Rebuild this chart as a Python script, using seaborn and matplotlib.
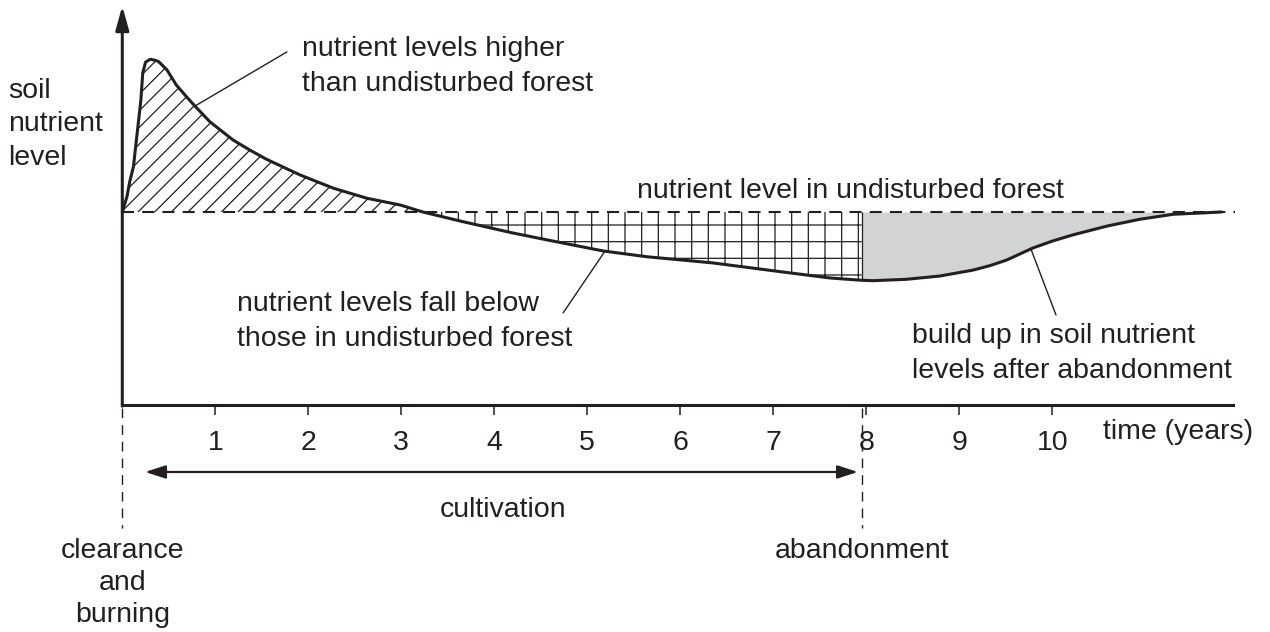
import numpy as np
import pandas as pd
import matplotlib

matplotlib.use('Agg')
import matplotlib.pyplot as plt
import seaborn as sns

# soil nutrient level (undisturbed forest = 100, arbitrary units)
years = [0.00, 0.05, 0.08, 0.12, 0.16, 0.20, 0.22, 0.25, 0.30, 0.35, 0.39, 0.48, 0.58,
         0.69, 0.78, 0.94, 1.19, 1.37, 1.55, 1.91, 2.27, 2.63, 2.99, 3.23, 3.66, 4.20,
         4.57, 5.17, 5.64, 6.35, 7.07, 7.61, 7.95, 8.07, 8.43, 8.79, 9.15, 9.33, 9.51,
         9.79, 10.00, 10.22, 10.59, 10.94, 11.30, 11.66, 11.82]
nutrient = [100.0, 107.9, 115.7, 123.5, 140.8, 158.0, 172.0, 177.6, 179.1, 178.6, 177.9,
            173.6, 165.8, 159.7, 154.9, 146.8, 137.3, 132.1, 127.3, 119.2, 112.3, 107.1,
            103.6, 100.0, 95.0, 89.1, 85.5, 79.8, 76.8, 73.6, 69.1, 65.8, 64.6, 64.4,
            65.1, 66.8, 69.9, 72.2, 75.1, 81.3, 84.9, 88.1, 92.7, 96.2, 98.8, 99.6, 100.0]
undisturbed = 100.0
crossing = 3.23        # curve drops below the undisturbed level
clearance = 0.0
abandonment = 7.95
reference_end = 11.96  # dashed undisturbed line
axis_end = 11.94
tick_years = list(range(1, 11))

ink = '#231f20'
grey = '#d1d3d4'

sns.set_theme(style='white')
plt.rcParams['font.family'] = ['Liberation Sans', 'DejaVu Sans']
plt.rcParams['hatch.linewidth'] = 0.9
plt.rcParams['hatch.color'] = ink

df = pd.DataFrame({'year': years, 'level': nutrient})
t = df['year'].to_numpy()
y = df['level'].to_numpy()

fig = plt.figure(figsize=(12.7, 6.32), dpi=100)
ax = fig.add_axes([0, 0, 1, 1])
ax.set_xlim(-1.315, 12.341)
ax.set_ylim(-117.6, 209.8)

# shaded areas between the curve and the undisturbed level
ax.fill_between(t, y, undisturbed, where=t <= crossing, facecolor='none',
                edgecolor=ink, hatch='//', lw=0)
ax.fill_between(t, y, undisturbed, where=(t >= crossing) & (t <= abandonment),
                facecolor='none', edgecolor=ink, hatch='+', lw=0)
ax.fill_between(t, y, undisturbed, where=t >= abandonment, facecolor=grey, lw=0)
ax.vlines(abandonment, np.interp(abandonment, t, y), undisturbed, color=ink, lw=0.9)

ax.plot([clearance, reference_end], [undisturbed, undisturbed], color=ink, lw=1.5,
        ls=(0, (5.8, 3.9)))
sns.lineplot(data=df, x='year', y='level', ax=ax, color=ink, lw=2.2,
             estimator=None, sort=False)
ax.set_xlabel('')
ax.set_ylabel('')

# axes
for s in ['top', 'right', 'left']:
    ax.spines[s].set_visible(False)
ax.spines['bottom'].set_position(('data', 0))
ax.spines['bottom'].set_bounds(0, axis_end)
ax.spines['bottom'].set_linewidth(2.2)
ax.spines['bottom'].set_color(ink)
ax.set_xticks(tick_years)
ax.tick_params(axis='x', direction='out', length=7.2, width=1.1, color=ink,
               labelcolor=ink, labelsize=20.5, pad=10.5, bottom=True)
ax.set_yticks([])
ax.annotate('', xy=(0, 206.7), xytext=(0, -0.6),
            arrowprops=dict(arrowstyle='-|>,head_length=0.72,head_width=0.2',
                            color=ink, lw=2.2, shrinkA=0, shrinkB=0, mutation_scale=20))

# cultivation period
ax.annotate('', xy=(0.245, -34.7), xytext=(7.91, -34.7),
            arrowprops=dict(arrowstyle='<|-|>,head_length=0.62,head_width=0.2',
                            color=ink, lw=1.6, shrinkA=0, shrinkB=0, mutation_scale=20))
for x in [clearance, abandonment]:
    ax.plot([x, x], [-1.6, -63.7], color=ink, lw=1.0, ls=(0, (7, 5)))

# leader lines to the curve
for x0, y0, x1 in [(1.77, 182.9, 0.781), (4.74, 47.7, 5.19), (10.04, 46.6, 9.77)]:
    ax.annotate('', xy=(x1, np.interp(x1, t, y)), xytext=(x0, y0),
                arrowprops=dict(arrowstyle='-', color=ink, lw=1.0, shrinkA=0, shrinkB=0))

fs = 20.5
ax.text(-1.229, 169.6, 'soil\nnutrient\nlevel', ha='left', va='top', fontsize=fs,
        color=ink, linespacing=1.39)
ax.text(1.932, 191.4, 'nutrient levels higher\nthan undisturbed forest', ha='left',
        va='top', fontsize=fs, color=ink, linespacing=1.48)
ax.text(5.535, 107.3, 'nutrient level in undisturbed forest', ha='left', va='baseline',
        fontsize=fs, color=ink)
ax.text(1.233, 59.2, 'nutrient levels fall below\nthose in undisturbed forest', ha='left',
        va='top', fontsize=fs, color=ink, linespacing=1.45)
ax.text(8.491, 42.6, 'build up in soil nutrient\nlevels after abandonment', ha='left',
        va='top', fontsize=fs, color=ink, linespacing=1.45)
ax.text(10.546, -17.6, 'time (years)', ha='left', va='baseline', fontsize=fs, color=ink)
ax.text(4.094, -58.0, 'cultivation', ha='center', va='baseline', fontsize=fs, color=ink)
ax.text(clearance, -68.7, 'clearance\nand\nburning', ha='center', va='top', fontsize=fs,
        color=ink, linespacing=1.32)
ax.text(abandonment, -79.3, 'abandonment', ha='center', va='baseline', fontsize=fs,
        color=ink)

fig.savefig('out.png', dpi=100, facecolor='white')
